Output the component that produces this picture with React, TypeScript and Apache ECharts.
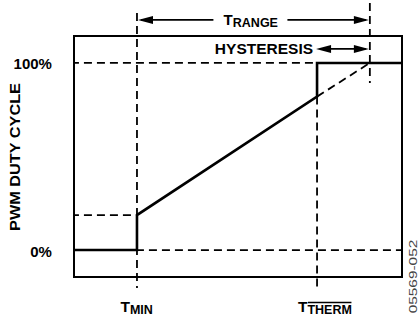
import React, { useEffect, useRef } from "react";
import * as echarts from "echarts";

// Characteristic temperatures (x axis units, 0..100 across the box)
const T_MIN = 19.2;
const T_THERM = 74.1;
const T_MAX = 90.2;
const X_RANGE = [0, 100];
const Y_RANGE = [-14.4, 114.4];

// PWM duty-cycle levels (%)
const DUTY_OFF = 0;
const DUTY_START = 18.7;
const DUTY_AT_THERM = 82;
const DUTY_FULL = 100;

// Solid duty-cycle curve
const dutyX = [0, T_MIN, T_MIN, T_THERM, T_THERM, 100];
const dutyY = [DUTY_OFF, DUTY_OFF, DUTY_START, DUTY_AT_THERM, DUTY_FULL, DUTY_FULL];

// Dashed guide segments [x1, y1, x2, y2]
const guideSegments = [
  [-4.9, DUTY_FULL, 100, DUTY_FULL],
  [-4.9, DUTY_OFF, 100, DUTY_OFF],
  [-4.9, DUTY_START, T_MIN, DUTY_START],
  [T_MIN, 126.7, T_MIN, -20.3],
  [T_THERM, DUTY_AT_THERM, T_THERM, -20.3],
  [T_MAX, 132, T_MAX, 89.3],
  [T_THERM, DUTY_AT_THERM, T_MAX, DUTY_FULL],
];

const yTickValues = [0, 100];
const yTickLabels = ["0%", "100%"];
const yAxisTitle = "PWM DUTY CYCLE";
const rangeLabel = ["T", "RANGE"];
const hystLabel = "HYSTERESIS";
const xTickValues = [T_MIN, T_THERM];
const xTickMain = ["T", "T"];
const xTickSub = ["MIN", "THERM"];
const figCode = "05569-052";

const RANGE_Y = 123;
const HYST_Y = 107.5;

const FONT = "'Liberation Sans', Arial, Helvetica, sans-serif";

export default function App() {
  const ref = useRef<HTMLDivElement>(null);
  useEffect(() => {
    if (!ref.current) return;
    const chart = echarts.init(ref.current, undefined, { renderer: "svg" });
    const guideSeries = guideSegments.map((s) => ({
      type: "line",
      data: [
        [s[0], s[1]],
        [s[2], s[3]],
      ],
      symbol: "none",
      clip: false,
      silent: true,
      lineStyle: { color: "#000", width: 1.8, type: [8, 5] },
      z: 2,
    }));
    chart.setOption({
      animation: false,
      backgroundColor: "#fff",
      grid: {
        left: 74,
        right: 18,
        top: 36,
        bottom: 45,
        show: true,
        borderColor: "#000",
        borderWidth: 2,
        backgroundColor: "transparent",
      },
      xAxis: {
        type: "value",
        min: X_RANGE[0],
        max: X_RANGE[1],
        show: false,
        splitLine: { show: false },
      },
      yAxis: {
        type: "value",
        min: Y_RANGE[0],
        max: Y_RANGE[1],
        show: false,
        splitLine: { show: false },
      },
      series: [
        ...guideSeries,
        {
          type: "line",
          data: dutyX.map((x, i) => [x, dutyY[i]]),
          symbol: "none",
          clip: false,
          silent: true,
          lineStyle: { color: "#000", width: 2.6, join: "miter" },
          z: 3,
        },
      ],
    });

    const px = (x: number, y: number) =>
      chart.convertToPixel({ gridIndex: 0 }, [x, y]) as number[];

    const arrowHead = (tx: number, ty: number, dir: number) => ({
      type: "polygon",
      shape: {
        points: [
          [tx, ty],
          [tx - dir * 15, ty - 4],
          [tx - dir * 15, ty + 4],
        ],
      },
      style: { fill: "#000" },
      z: 10,
    });
    const shaft = (x1: number, y1: number, x2: number, y2: number) => ({
      type: "line",
      shape: { x1, y1, x2, y2 },
      style: { stroke: "#000", lineWidth: 1.6 },
      z: 10,
    });
    const txt = (
      text: string,
      x: number,
      y: number,
      size: number,
      align: string,
      extra: any = {}
    ) => ({
      type: "text",
      x,
      y,
      z: 10,
      style: {
        text,
        fill: "#000",
        font: `bold ${size}px ${FONT}`,
        align,
        verticalAlign: "middle",
      },
      ...extra,
    });

    const graphics: any[] = [];

    // Y tick labels
    yTickValues.forEach((v, i) => {
      const p = px(-4.9, v);
      graphics.push(txt(yTickLabels[i], p[0] - 6, p[1] + 1, 15, "right"));
    });

    // Y axis title
    graphics.push(
      txt(yAxisTitle, 14.5, 157, 15.5, "center", { rotation: Math.PI / 2, scaleX: 1.05 })
    );

    // T_RANGE arrow
    const r1 = px(T_MIN, RANGE_Y);
    const r2 = px(T_MAX, RANGE_Y);
    const rm = (r1[0] + r2[0]) / 2;
    graphics.push(shaft(r1[0] + 4, r1[1], rm - 40, r1[1]));
    graphics.push(shaft(rm + 34, r1[1], r2[0] - 4, r1[1]));
    graphics.push(arrowHead(r1[0] + 1, r1[1], -1));
    graphics.push(arrowHead(r2[0] - 1, r2[1], 1));
    graphics.push(txt(rangeLabel[0], rm - 30, r1[1], 15, "left"));
    graphics.push(txt(rangeLabel[1], rm - 20.6, r1[1] + 3, 12.5, "left"));

    // Hysteresis arrow
    const h1 = px(T_THERM, HYST_Y);
    const h2 = px(T_MAX, HYST_Y);
    graphics.push(shaft(h1[0] + 4, h1[1], h2[0] - 4, h1[1]));
    graphics.push(arrowHead(h1[0] - 1, h1[1], -1));
    graphics.push(arrowHead(h2[0] - 1, h2[1], 1));
    graphics.push(txt(hystLabel, h1[0] - 4, h1[1], 15.5, "right"));

    // X labels
    xTickValues.forEach((v, i) => {
      const p = px(v, -14.4);
      const startX = i === 0 ? p[0] - 16.5 : p[0] - 19;
      const ty = p[1] + 29;
      graphics.push(txt(xTickMain[i], startX, ty, 15.5, "left"));
      const subX = startX + 9.4;
      graphics.push(txt(xTickSub[i], subX, ty + 3.5, 12.5, "left"));
      if (xTickSub[i] === "THERM") {
        graphics.push({
          type: "line",
          shape: { x1: subX + 0.5, y1: ty - 3.5, x2: subX + 44, y2: ty - 3.5 },
          style: { stroke: "#000", lineWidth: 1.3 },
          z: 10,
        });
      }
    });

    // Figure code
    graphics.push({
      type: "text",
      x: 413,
      y: 276.5,
      rotation: Math.PI / 2,
      scaleX: 1.4,
      z: 10,
      style: {
        text: figCode,
        fill: "#444",
        font: `11px ${FONT}`,
        align: "center",
        verticalAlign: "middle",
      },
    });

    chart.setOption({ graphic: graphics });
    return () => chart.dispose();
  }, []);
  return (
    <div
      style={{ position: "fixed", left: 0, top: 0, width: 420, height: 322, background: "#fff" }}
    >
      <div ref={ref} style={{ width: 420, height: 322 }} />
    </div>
  );
}
